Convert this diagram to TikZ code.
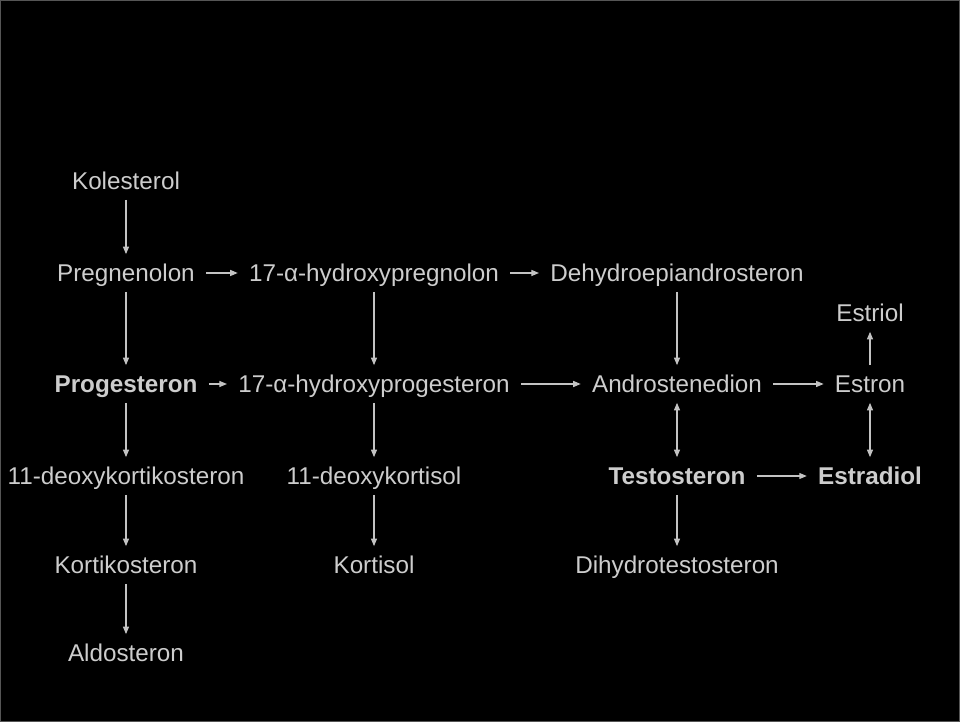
\documentclass[tikz,border=0pt]{standalone}
\usepackage{fontspec}
\setmainfont{Liberation Sans}
\usetikzlibrary{arrows.meta}
\definecolor{txtgray}{RGB}{205,205,205}
\definecolor{arrgray}{RGB}{195,195,195}
\definecolor{framegray}{RGB}{85,85,85}
\tikzset{
  hormon/.style={text=txtgray, font=\fontsize{13.8}{16}\selectfont,
    inner xsep=0.22cm, inner ysep=0.2cm, text height=0.34cm, text depth=0pt},
  hormonbf/.style={hormon, font=\fontsize{13.8}{16}\selectfont\bfseries},
  conv/.style={-{Triangle[length=1.5mm,width=1.2mm]}, arrgray, line width=0.6pt},
  both/.style={conv, {Triangle[length=1.5mm,width=1.2mm]}-{Triangle[length=1.5mm,width=1.2mm]}}
}
\begin{document}
\begin{tikzpicture}[x=0.02cm, y=-0.02cm]

  \useasboundingbox (0,0) rectangle (960,722);
  \fill[black] (0,0) rectangle (960,722);
  \draw[framegray, line width=0.6pt] (0.6,0.6) rectangle (959.4,721.4);

  % column 1
  \node[hormon]   (kol)   at (126,181) {Kolesterol};
  \node[hormon]   (preg)  at (126,273) {Pregnenolon};
  \node[hormonbf] (prog)  at (126,384) {Progesteron};
  \node[hormon]   (doc)   at (126,476) {11-deoxykortikosteron};
  \node[hormon]   (kortk) at (126,565) {Kortikosteron};
  \node[hormon]   (aldo)  at (126,653) {Aldosteron};

  % column 2
  \node[hormon] (ohpreg) at (374,273) {17-α-hydroxypregnolon};
  \node[hormon] (ohprog) at (374,384) {17-α-hydroxyprogesteron};
  \node[hormon] (dok)    at (374,476) {11-deoxykortisol};
  \node[hormon] (kort)   at (374,565) {Kortisol};

  % column 3
  \node[hormon]   (dhea)  at (677,273) {Dehydroepiandrosteron};
  \node[hormon]   (andro) at (677,384) {Androstenedion};
  \node[hormonbf] (testo) at (677,476) {Testosteron};
  \node[hormon]   (dht)   at (677,565) {Dihydrotestosteron};

  % column 4
  \node[hormon]   (estriol) at (870,313) {Estriol};
  \node[hormon]   (estron)  at (870,384) {Estron};
  \node[hormonbf] (estrad)  at (870,476) {Estradiol};

  % vertical steps
  \draw[conv] (kol) -- (preg);
  \draw[conv] (preg) -- (prog);
  \draw[conv] (prog) -- (doc);
  \draw[conv] (doc) -- (kortk);
  \draw[conv] (kortk) -- (aldo);
  \draw[conv] (ohpreg) -- (ohprog);
  \draw[conv] (ohprog) -- (dok);
  \draw[conv] (dok) -- (kort);
  \draw[conv] (dhea) -- (andro);
  \draw[both] (andro) -- (testo);
  \draw[conv] (testo) -- (dht);
  \draw[conv] (estron) -- (estriol);
  \draw[both] (estron) -- (estrad);

  % horizontal steps
  \draw[conv] (preg) -- (ohpreg);
  \draw[conv] (ohpreg) -- (dhea);
  \draw[conv] (prog) -- (ohprog);
  \draw[conv] (ohprog) -- (andro);
  \draw[conv] (andro) -- (estron);
  \draw[conv] (testo) -- (estrad);

\end{tikzpicture}
\end{document}
